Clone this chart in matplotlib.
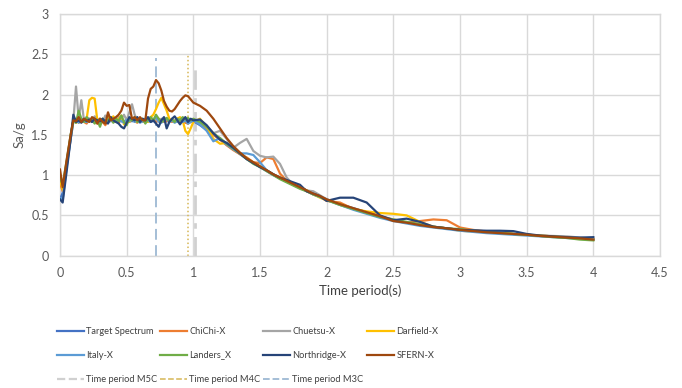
import matplotlib
matplotlib.use("Agg")
import matplotlib.pyplot as plt
from matplotlib.lines import Line2D
from matplotlib import font_manager

plt.rcParams['font.family'] = ['Lato', 'DejaVu Sans']

# Period grid (s)
periods = [0.0, 0.02, 0.05, 0.08,
           0.10, 0.12, 0.14, 0.16, 0.18, 0.20, 0.22, 0.24, 0.26, 0.28,
           0.30, 0.32, 0.34, 0.36, 0.38, 0.40, 0.42, 0.44, 0.46, 0.48,
           0.50, 0.52, 0.54, 0.56, 0.58, 0.60, 0.62, 0.64, 0.66, 0.68,
           0.70, 0.72, 0.74, 0.76, 0.78, 0.80, 0.82, 0.84, 0.86, 0.88,
           0.90, 0.92, 0.94, 0.96, 0.98, 1.00,
           1.05, 1.10, 1.15, 1.20, 1.25, 1.30, 1.35, 1.40, 1.45, 1.50,
           1.55, 1.60, 1.65, 1.70, 1.75, 1.80, 1.85, 1.90, 1.95, 2.00,
           2.1, 2.2, 2.3, 2.4, 2.5, 2.6, 2.7, 2.8, 2.9, 3.0,
           3.1, 3.2, 3.3, 3.4, 3.5, 3.6, 3.7, 3.8, 3.9, 4.0]

target_spectrum = [0.70, 0.78, 1.12, 1.45,
    1.67, 1.67, 1.67, 1.67, 1.67, 1.67, 1.67, 1.67, 1.67, 1.67,
    1.67, 1.67, 1.67, 1.67, 1.67, 1.67, 1.67, 1.67, 1.67, 1.67,
    1.67, 1.67, 1.67, 1.67, 1.67, 1.67, 1.67, 1.67, 1.67, 1.67,
    1.67, 1.67, 1.67, 1.67, 1.67, 1.67, 1.67, 1.67, 1.67, 1.67,
    1.67, 1.67, 1.67, 1.67, 1.67, 1.67,
    1.62, 1.56, 1.50, 1.45, 1.38, 1.32, 1.26, 1.20, 1.15, 1.10,
    1.05, 1.00, 0.96, 0.92, 0.88, 0.85, 0.81, 0.77, 0.74, 0.70,
    0.64, 0.59, 0.54, 0.49, 0.44, 0.41, 0.385, 0.36, 0.34, 0.32,
    0.305, 0.29, 0.28, 0.27, 0.26, 0.245, 0.235, 0.225, 0.215, 0.20]

chichi_x = [0.90, 0.80, 1.15, 1.48,
    1.67, 1.70, 1.65, 1.68, 1.66, 1.64, 1.70, 1.66, 1.68, 1.64,
    1.70, 1.66, 1.62, 1.68, 1.70, 1.66, 1.68, 1.65, 1.70, 1.67,
    1.68, 1.66, 1.70, 1.67, 1.65, 1.69, 1.66, 1.68, 1.70, 1.67,
    1.69, 1.66, 1.70, 1.68, 1.66, 1.67, 1.69, 1.66, 1.68, 1.70,
    1.66, 1.68, 1.65, 1.64, 1.66, 1.68,
    1.64, 1.57, 1.50, 1.44, 1.37, 1.31, 1.26, 1.22, 1.16, 1.15,
    1.22, 1.20, 1.02, 0.93, 0.88, 0.84, 0.80, 0.76, 0.73, 0.68,
    0.66, 0.58, 0.54, 0.49, 0.45, 0.41, 0.43, 0.45, 0.44, 0.35,
    0.32, 0.30, 0.285, 0.27, 0.26, 0.25, 0.24, 0.23, 0.215, 0.20]

chuetsu_x = [1.00, 0.85, 1.15, 1.50,
    1.67, 2.10, 1.70, 1.93, 1.68, 1.72, 1.70, 1.67, 1.73, 1.69,
    1.70, 1.66, 1.74, 1.70, 1.72, 1.68, 1.66, 1.72, 1.70, 1.75,
    1.68, 1.78, 1.88, 1.75, 1.68, 1.70, 1.66, 1.70, 1.68, 1.72,
    1.68, 1.70, 1.66, 1.70, 1.68, 1.71, 1.67, 1.70, 1.68, 1.66,
    1.70, 1.68, 1.70, 1.69, 1.67, 1.68,
    1.66, 1.60, 1.52, 1.55, 1.45, 1.34, 1.40, 1.45, 1.30, 1.24,
    1.22, 1.23, 1.14, 0.97, 0.88, 0.85, 0.81, 0.80, 0.75, 0.70,
    0.63, 0.58, 0.53, 0.48, 0.44, 0.41, 0.38, 0.36, 0.34, 0.32,
    0.31, 0.30, 0.285, 0.27, 0.26, 0.25, 0.245, 0.24, 0.225, 0.21]

darfield_x = [0.95, 0.82, 1.15, 1.47,
    1.68, 1.65, 1.72, 1.68, 1.66, 1.70, 1.93, 1.96, 1.95, 1.68,
    1.65, 1.70, 1.66, 1.72, 1.68, 1.73, 1.67, 1.70, 1.74, 1.63,
    1.68, 1.66, 1.70, 1.68, 1.66, 1.70, 1.67, 1.68, 1.66, 1.72,
    1.75, 1.82, 1.90, 1.96, 1.88, 1.80, 1.70, 1.68, 1.66, 1.70,
    1.72, 1.68, 1.55, 1.51, 1.58, 1.66,
    1.70, 1.60, 1.45, 1.39, 1.40, 1.33, 1.27, 1.21, 1.15, 1.11,
    1.06, 1.01, 0.97, 0.93, 0.89, 0.85, 0.81, 0.76, 0.72, 0.69,
    0.64, 0.58, 0.55, 0.53, 0.52, 0.50, 0.42, 0.36, 0.34, 0.31,
    0.30, 0.29, 0.28, 0.27, 0.26, 0.25, 0.24, 0.225, 0.215, 0.20]

italy_x = [0.72, 0.70, 1.10, 1.45,
    1.66, 1.68, 1.65, 1.70, 1.67, 1.66, 1.69, 1.67, 1.65, 1.68,
    1.66, 1.70, 1.67, 1.65, 1.68, 1.70, 1.66, 1.68, 1.67, 1.65,
    1.69, 1.67, 1.70, 1.66, 1.68, 1.65, 1.67, 1.70, 1.68, 1.66,
    1.69, 1.72, 1.67, 1.65, 1.68, 1.70, 1.66, 1.68, 1.65, 1.67,
    1.69, 1.66, 1.68, 1.64, 1.66, 1.68,
    1.63, 1.55, 1.42, 1.46, 1.38, 1.32, 1.27, 1.27, 1.25, 1.16,
    1.06, 1.01, 0.96, 0.92, 0.88, 0.84, 0.80, 0.76, 0.73, 0.69,
    0.63, 0.57, 0.52, 0.47, 0.43, 0.40, 0.37, 0.35, 0.33, 0.31,
    0.295, 0.28, 0.27, 0.26, 0.25, 0.24, 0.23, 0.22, 0.21, 0.20]

landers_x = [0.97, 0.88, 1.18, 1.50,
    1.68, 1.65, 1.80, 1.70, 1.66, 1.72, 1.67, 1.70, 1.64, 1.68,
    1.60, 1.70, 1.66, 1.68, 1.72, 1.65, 1.70, 1.67, 1.74, 1.66,
    1.62, 1.70, 1.68, 1.72, 1.66, 1.68, 1.70, 1.64, 1.69, 1.72,
    1.68, 1.75, 1.70, 1.66, 1.68, 1.71, 1.67, 1.69, 1.66, 1.70,
    1.68, 1.72, 1.69, 1.71, 1.68, 1.70,
    1.66, 1.60, 1.52, 1.46, 1.39, 1.33, 1.27, 1.20, 1.14, 1.10,
    1.05, 1.00, 0.95, 0.91, 0.87, 0.83, 0.80, 0.76, 0.73, 0.69,
    0.63, 0.58, 0.53, 0.48, 0.45, 0.42, 0.39, 0.36, 0.34, 0.33,
    0.31, 0.30, 0.285, 0.27, 0.26, 0.245, 0.23, 0.22, 0.20, 0.19]

northridge_x = [0.70, 0.66, 1.05, 1.45,
    1.75, 1.66, 1.68, 1.65, 1.70, 1.67, 1.69, 1.66, 1.70, 1.68,
    1.67, 1.70, 1.66, 1.64, 1.72, 1.68, 1.66, 1.64, 1.60, 1.58,
    1.65, 1.72, 1.70, 1.68, 1.72, 1.66, 1.70, 1.68, 1.72, 1.66,
    1.68, 1.64, 1.60, 1.68, 1.72, 1.58, 1.66, 1.70, 1.73, 1.68,
    1.63, 1.68, 1.72, 1.66, 1.70, 1.68,
    1.69, 1.62, 1.52, 1.44, 1.40, 1.34, 1.27, 1.20, 1.15, 1.10,
    1.06, 1.01, 0.97, 0.94, 0.91, 0.88, 0.80, 0.77, 0.74, 0.68,
    0.72, 0.72, 0.66, 0.50, 0.44, 0.46, 0.42, 0.36, 0.34, 0.32,
    0.315, 0.31, 0.31, 0.305, 0.27, 0.25, 0.24, 0.23, 0.225, 0.23]

sfern_x = [1.07, 0.85, 1.19, 1.50,
    1.68, 1.67, 1.72, 1.66, 1.70, 1.68, 1.66, 1.72, 1.70, 1.64,
    1.70, 1.66, 1.64, 1.78, 1.68, 1.70, 1.72, 1.75, 1.80, 1.90,
    1.86, 1.87, 1.70, 1.72, 1.68, 1.72, 1.68, 1.68, 1.95, 2.07,
    2.10, 2.18, 2.14, 2.05, 1.92, 1.85, 1.80, 1.79, 1.82, 1.87,
    1.92, 1.96, 1.99, 1.98, 1.94, 1.90,
    1.86, 1.80, 1.70, 1.58, 1.46, 1.36, 1.28, 1.21, 1.16, 1.11,
    1.06, 1.01, 0.97, 0.93, 0.89, 0.85, 0.81, 0.77, 0.74, 0.70,
    0.64, 0.59, 0.54, 0.49, 0.43, 0.41, 0.38, 0.355, 0.34, 0.32,
    0.305, 0.29, 0.28, 0.27, 0.26, 0.245, 0.235, 0.225, 0.215, 0.20]

series_names = ['Target Spectrum', 'ChiChi-X', 'Chuetsu-X', 'Darfield-X',
                'Italy-X', 'Landers_X', 'Northridge-X', 'SFERN-X']
series_values = [target_spectrum, chichi_x, chuetsu_x, darfield_x,
                 italy_x, landers_x, northridge_x, sfern_x]
series_colors = ['#4472C4', '#ED7D31', '#A5A5A5', '#FFC000',
                 '#5B9BD5', '#70AD47', '#264478', '#9E480E']

ref_names = ['Time period M5C', 'Time period M4C', 'Time period M3C']
ref_periods = [1.01, 0.96, 0.72]
ref_heights = [2.4, 2.5, 2.45]
ref_colors = ['#D0D0D0', '#D6B656', '#9DB9D3']
ref_styles = [(0, (7, 3, 2, 3)), (0, (1, 1.6)), (0, (6, 3))]
ref_widths = [2.0, 1.1, 1.3]

W, H = 682, 388
fig = plt.figure(figsize=(W / 100, H / 100), dpi=100)
ax = fig.add_axes([60 / W, 1 - 255.7 / H, 600 / W, (255.7 - 14) / H])

handles = {}
draw_order = [1, 2, 3, 4, 5, 0, 6, 7]
for i in draw_order:
    ln, = ax.plot(periods, series_values[i], color=series_colors[i], lw=1.6,
                  solid_joinstyle='round', zorder=3 + i * 0.1)
    handles[series_names[i]] = ln

for name, p, h, c, ls, w in zip(ref_names, ref_periods, ref_heights,
                                ref_colors, ref_styles, ref_widths):
    ln, = ax.plot([p, p], [0, h], color=c, linestyle=ls, lw=w, zorder=2)
    handles[name] = ln

ax.set_xlim(0, 4.5)
ax.set_ylim(0, 3)
ax.set_xticks([0, 0.5, 1, 1.5, 2, 2.5, 3, 3.5, 4, 4.5])
ax.set_xticklabels(['0', '0.5', '1', '1.5', '2', '2.5', '3', '3.5', '4', '4.5'])
ax.set_yticks([0, 0.5, 1, 1.5, 2, 2.5, 3])
ax.set_yticklabels(['0', '0.5', '1', '1.5', '2', '2.5', '3'])
ax.grid(True, color='#D9D9D9', lw=1.0, zorder=0)
ax.set_axisbelow(True)
for s in ax.spines.values():
    s.set_color('#D9D9D9')
    s.set_linewidth(1.0)
ax.tick_params(length=0, labelsize=9, colors='#595959', pad=8)

ax.set_xlabel('Time period(s)', fontsize=9.5, color='#404040', labelpad=4)
ax.set_ylabel('Sa/g', fontsize=9.5, color='#595959', labelpad=4)

# Legend laid out like Excel: equal-width columns, row-major order
available = {f.name for f in font_manager.fontManager.ttflist}
if 'Liberation Sans Narrow' in available:
    leg_family, leg_size = ['Liberation Sans Narrow', 'DejaVu Sans'], 7.8
else:
    leg_family, leg_size = ['Lato', 'DejaVu Sans'], 6.7

legend_rows = [['Target Spectrum', 'ChiChi-X', 'Chuetsu-X', 'Darfield-X'],
               ['Italy-X', 'Landers_X', 'Northridge-X', 'SFERN-X'],
               ['Time period M5C', 'Time period M4C', 'Time period M3C']]
col_x = [57, 160, 263, 367]
row_y = [331, 355, 379]
for r, row in enumerate(legend_rows):
    for c, name in enumerate(row):
        src = handles[name]
        x0 = col_x[c]
        y = 1 - row_y[r] / H
        fig.add_artist(Line2D([x0 / W, (x0 + 27) / W], [y, y],
                              transform=fig.transFigure,
                              color=src.get_color(),
                              lw=min(src.get_linewidth(), 1.6),
                              linestyle=src.get_linestyle()))
        fig.text((x0 + 29.5) / W, y, name, fontsize=leg_size, family=leg_family,
                 color='#404040', va='center', ha='left')

fig.savefig('out.png', dpi=100)
